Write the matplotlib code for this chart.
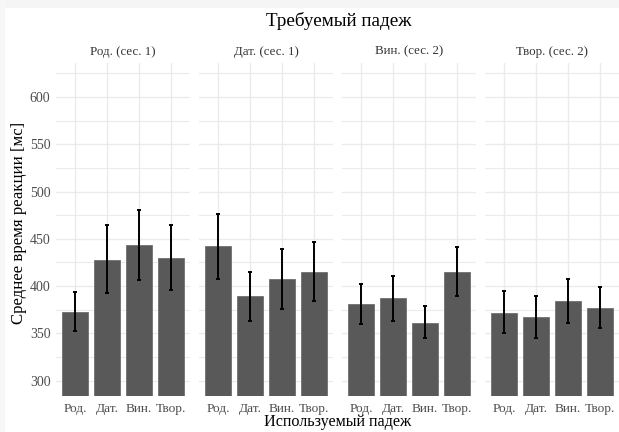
import numpy as np
import matplotlib
matplotlib.use('Agg')
import matplotlib.pyplot as plt
from matplotlib.patches import Rectangle

# facets (required case) and bars (used case)
panels = ["Род. (сес. 1)", "Дат. (сес. 1)", "Вин. (сес. 2)", "Твор. (сес. 2)"]
cases = ["Род.", "Дат.", "Вин.", "Твор."]

# mean RT per panel, per used case
means = [
    [373, 428, 443, 430],
    [442, 389, 407, 415],
    [381, 387, 361, 415],
    [372, 367, 384, 377],
]
ci_low = [
    [353, 393, 406, 396],
    [408, 363, 376, 384],
    [360, 363, 345, 389],
    [350, 345, 361, 356],
]
ci_high = [
    [394, 465, 481, 465],
    [476, 415, 439, 447],
    [402, 411, 379, 441],
    [395, 390, 408, 399],
]

plt.rcParams['font.family'] = ['Liberation Serif', 'DejaVu Serif']

fig, axes = plt.subplots(1, 4, figsize=(6.19, 4.32), dpi=100, sharey=True)
fig.subplots_adjust(left=0.0905, right=1.0, top=0.854, bottom=0.084, wspace=0.065)

grid_col = "#EBEBEB"
text_col = "#4D4D4D"
x = np.arange(len(cases))

for i, ax in enumerate(axes):
    m = np.array(means[i])
    lo = np.array(ci_low[i])
    hi = np.array(ci_high[i])
    ax.bar(x, m, width=0.8, color="#595959", edgecolor="#707070", linewidth=0.6, zorder=2)
    ax.errorbar(x, m, yerr=[m - lo, hi - m], fmt="none", ecolor="black",
                elinewidth=1.4, capsize=1.2, capthick=1.4, zorder=3)
    ax.set_xlim(-0.6, 3.6)
    ax.set_ylim(284, 636)
    ax.set_xticks(x)
    ax.set_xticklabels(cases, fontsize=9.6, color=text_col)
    ax.set_yticks([300, 350, 400, 450, 500, 550, 600])
    ax.set_yticks(np.arange(325, 636, 50), minor=True)
    ax.tick_params(axis="x", which="both", length=0, labelsize=9.6, labelcolor=text_col, pad=5)
    ax.tick_params(axis="y", which="both", length=0, labelsize=10, labelcolor=text_col, pad=4)
    ax.grid(True, which="major", color=grid_col, linewidth=1.0, zorder=0)
    ax.grid(True, which="minor", axis="y", color=grid_col, linewidth=0.8, zorder=0)
    ax.set_axisbelow(True)
    for s in ax.spines.values():
        s.set_visible(False)
    ax.set_title(panels[i], fontsize=9.3, color="#333333", pad=6)

fig.text(0.548, 0.951, "Требуемый падеж", ha="center", va="center", fontsize=13.8)
fig.text(0.546, 0.022, "Используемый падеж", ha="center", va="center", fontsize=11.6)
fig.text(0.031, 0.483, "Среднее время реакции [мс]", ha="center", va="center",
         rotation=90, fontsize=12.1)

# faint screenshot border on top and left
fig.patches.append(Rectangle((0, 1 - 7 / 432), 1, 7 / 432, transform=fig.transFigure,
                             color="#F5F5F5", zorder=-1))
fig.patches.append(Rectangle((0, 0), 4 / 619, 1, transform=fig.transFigure,
                             color="#F7F7F7", zorder=-1))

plt.savefig("out.png", dpi=100)
plt.close()
